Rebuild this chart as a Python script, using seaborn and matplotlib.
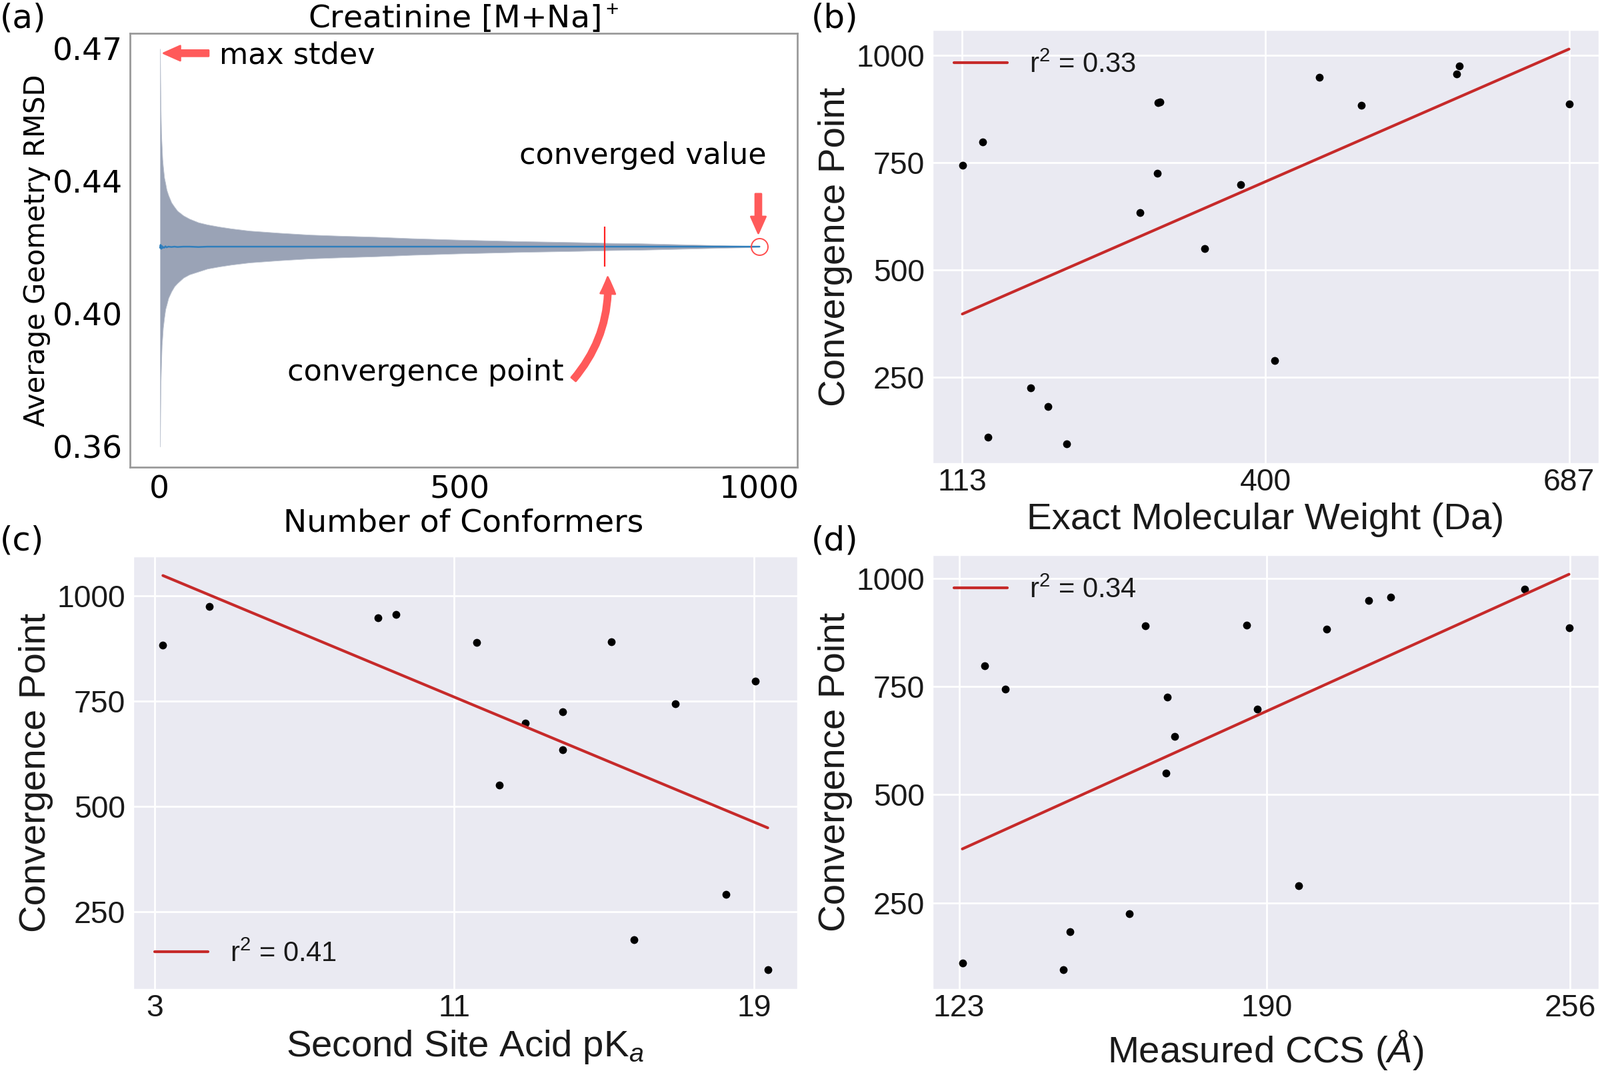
import numpy as np
import pandas as pd
import matplotlib
matplotlib.use("Agg")
import matplotlib.pyplot as plt
import seaborn as sns

# ---------------- data: panel (a) ----------------
n_conformers = [1, 2, 3, 4, 5, 6, 8, 10, 12, 15, 20, 25, 30, 40, 50, 65, 80, 100,
                120, 150, 200, 250, 300, 360, 420, 500, 600, 700, 750, 800, 850,
                900, 950, 980, 1000]
mean_rmsd = [0.4150, 0.4158, 0.4147, 0.4155, 0.4149, 0.4152, 0.4150, 0.4154,
             0.4151, 0.4153, 0.4152, 0.4153, 0.4152, 0.4153, 0.4153, 0.4152,
             0.4153, 0.4153, 0.4153, 0.4153, 0.4153, 0.4153, 0.4153, 0.4153,
             0.4153, 0.4153, 0.4153, 0.4153, 0.4153, 0.4153, 0.4153, 0.4153,
             0.4153, 0.4153, 0.4153]
std_rmsd = [0.0550, 0.0390, 0.0318, 0.0275, 0.0246, 0.0224, 0.0194, 0.0174,
            0.0159, 0.0142, 0.0123, 0.0110, 0.0100, 0.0086, 0.0077, 0.0068,
            0.0061, 0.0055, 0.0050, 0.0044, 0.0038, 0.0033, 0.0030, 0.0027,
            0.0023, 0.0019, 0.0015, 0.0012, 0.0010, 0.0009, 0.0007, 0.0005,
            0.0003, 0.0002, 0.0000]
convergence_point = 742
a_xticks = [0, 500, 1000]
a_yticks = [0.36, 0.3967, 0.4333, 0.47]
a_yticklabels = ["0.36", "0.40", "0.44", "0.47"]

# ---------------- data: panels (b)-(d) ----------------
conv_point = [744, 797, 111, 225, 183, 95, 634, 725, 890, 891, 550, 698, 290,
              948, 883, 956, 975, 886]
mol_weight = [113.1, 132.4, 137.2, 177.9, 194.3, 211.7, 281.4, 297.4, 298.5,
              299.8, 342.4, 376.3, 408.7, 450.8, 490.5, 581.0, 583.0, 687.0]
ccs = [133.1, 128.6, 123.7, 160.1, 147.2, 145.7, 170.0, 168.4, 163.6, 185.6,
       168.1, 188.0, 197.0, 212.2, 203.1, 216.9, 246.2, 255.8]
pka = [16.9, 19.03, 19.37, np.nan, 15.8, np.nan, 13.9, 13.9, 11.6, 15.2, 12.2,
       12.9, 18.25, 8.97, 3.22, 9.45, 4.46, np.nan]
r2_labels = [r"r$^2$ = 0.33", r"r$^2$ = 0.41", r"r$^2$ = 0.34"]
b_xticks = [113, 400, 687]
c_xticks = [3, 11, 19]
d_xticks = [123, 190, 256]
conv_yticks = [250, 500, 750, 1000]

df = pd.DataFrame({"conv": conv_point, "mw": mol_weight, "ccs": ccs, "pka": pka})

# ---------------- style ----------------
sns.set_theme(style="darkgrid")
plt.rcParams["font.family"] = ["Liberation Sans", "DejaVu Sans"]
plt.rcParams["mathtext.fontset"] = "custom"
plt.rcParams["mathtext.rm"] = "Liberation Sans"
plt.rcParams["mathtext.it"] = "Liberation Sans:italic"
plt.rcParams["mathtext.bf"] = "Liberation Sans:bold"
for k in ["text.color", "axes.labelcolor", "xtick.color", "ytick.color"]:
    plt.rcParams[k] = "#1a1a1a"

W, H = 2400, 1610
fig = plt.figure(figsize=(12, 8.05), dpi=200)


def add_ax(l, t, r, b):
    return fig.add_axes([l / W, 1 - b / H, (r - l) / W, (b - t) / H])


ax_a = add_ax(195, 50, 1196, 701)
ax_b = add_ax(1398, 44, 2399, 696)
ax_c = add_ax(199, 834, 1197, 1485)
ax_d = add_ax(1398, 832, 2399, 1485)

# ---------------- panel (a) ----------------
DV = "DejaVu Sans"
red_arrow = "#ff5a5a"
mean_arr = np.array(mean_rmsd)
std_arr = np.array(std_rmsd)
ax_a.set_facecolor("white")
ax_a.grid(False)
ax_a.fill_between(n_conformers, mean_arr - std_arr, mean_arr + std_arr,
                  color="#9aa3b6", lw=0.3, edgecolor="#bcc3d0")
sns.lineplot(x=n_conformers, y=mean_rmsd, ax=ax_a, color="#2f7ebc", lw=0.9)
conv_mean = np.interp(convergence_point, n_conformers, mean_rmsd)
ax_a.plot([convergence_point], [conv_mean], marker="|", ms=21.5, mew=0.8,
          color="#ff2222", ls="none")
ax_a.plot([n_conformers[-1]], [mean_rmsd[-1]], marker="o", ms=9, mfc="none",
          mec="#ff4d4d", mew=0.7, ls="none")

arrow_style = "simple,head_length=0.9,head_width=0.8,tail_width=0.32"
ax_a.annotate("", xy=(7, 0.4688), xytext=(82, 0.4688),
              arrowprops=dict(arrowstyle=arrow_style, color=red_arrow,
                              mutation_scale=10, shrinkA=0, shrinkB=0))
ax_a.text(100, 0.4683, "max stdev", fontsize=16, family=DV, ha="left",
          va="center", color="black")
ax_a.text(806, 0.4404, "converged value", fontsize=16, family=DV,
          ha="center", va="center", color="black")
ax_a.annotate("", xy=(998, 0.4190), xytext=(998, 0.4299),
              arrowprops=dict(arrowstyle=arrow_style, color=red_arrow,
                              mutation_scale=10, shrinkA=0, shrinkB=0))
ax_a.text(443, 0.3805, "convergence point", fontsize=16, family=DV,
          ha="center", va="center", color="black")
ax_a.annotate("", xy=(747, 0.4069), xytext=(690, 0.3786),
              arrowprops=dict(arrowstyle=arrow_style, color=red_arrow,
                              mutation_scale=10, shrinkA=0, shrinkB=0,
                              connectionstyle="arc3,rad=0.2"))

ax_a.set_xlim(-49, 1063)
ax_a.set_ylim(0.3543, 0.4743)
ax_a.set_xticks(a_xticks, labels=[str(t) for t in a_xticks], family=DV)
ax_a.set_yticks(a_yticks, labels=a_yticklabels, family=DV)
for sp in ax_a.spines.values():
    sp.set_visible(True)
    sp.set_color("#9a9a9a")
    sp.set_linewidth(1.0)
ax_a.tick_params(axis="both", length=2, width=0.8, color="#888888",
                 labelsize=17, pad=2, labelcolor="black")
ax_a.set_xlabel("Number of Conformers", fontsize=17, family=DV, labelpad=2,
                color="black")
ax_a.set_ylabel("Average Geometry RMSD", fontsize=15, family=DV, labelpad=1,
                color="black")
ax_a.set_title(r"Creatinine [M+Na]$^+$", fontsize=17, family=DV, pad=3,
               color="black")

# ---------------- panels (b)-(d) ----------------
line_red = "#c62a2a"
panels = [
    (ax_b, "mw", r2_labels[0], b_xticks, "Exact Molecular Weight (Da)", "upper left"),
    (ax_c, "pka", r2_labels[1], c_xticks, r"Second Site Acid pK$_a$", "lower left"),
    (ax_d, "ccs", r2_labels[2], d_xticks, r"Measured CCS ($Å$)", "upper left"),
]
for ax, xcol, lab, xt, xlabel, loc in panels:
    sns.regplot(data=df, x=xcol, y="conv", ax=ax, ci=None, color="black",
                scatter_kws=dict(s=18, linewidths=0, alpha=1),
                line_kws=dict(color=line_red, lw=1.5, label=lab))
    ax.set_xticks(xt)
    ax.set_yticks(conv_yticks)
    ax.tick_params(axis="x", length=0, labelsize=16.7, pad=2)
    ax.tick_params(axis="y", length=0, labelsize=16.7, pad=4)
    ax.set_xlabel(xlabel, fontsize=20.3, labelpad=3)
    ax.set_ylabel("Convergence Point", fontsize=20.3, labelpad=2)
    ax.legend(loc=loc, frameon=False, fontsize=15, handlelength=1.9,
              handletextpad=0.8, borderaxespad=0.4)

# panel letters
for lab, x, y in [("(a)", 0, 28), ("(b)", 1217, 28), ("(c)", 0, 811), ("(d)", 1217, 811)]:
    fig.text(x / W, 1 - y / H, lab, fontsize=18, family=DV, ha="left",
             va="center", color="black")

fig.savefig("out.png", dpi=200)
